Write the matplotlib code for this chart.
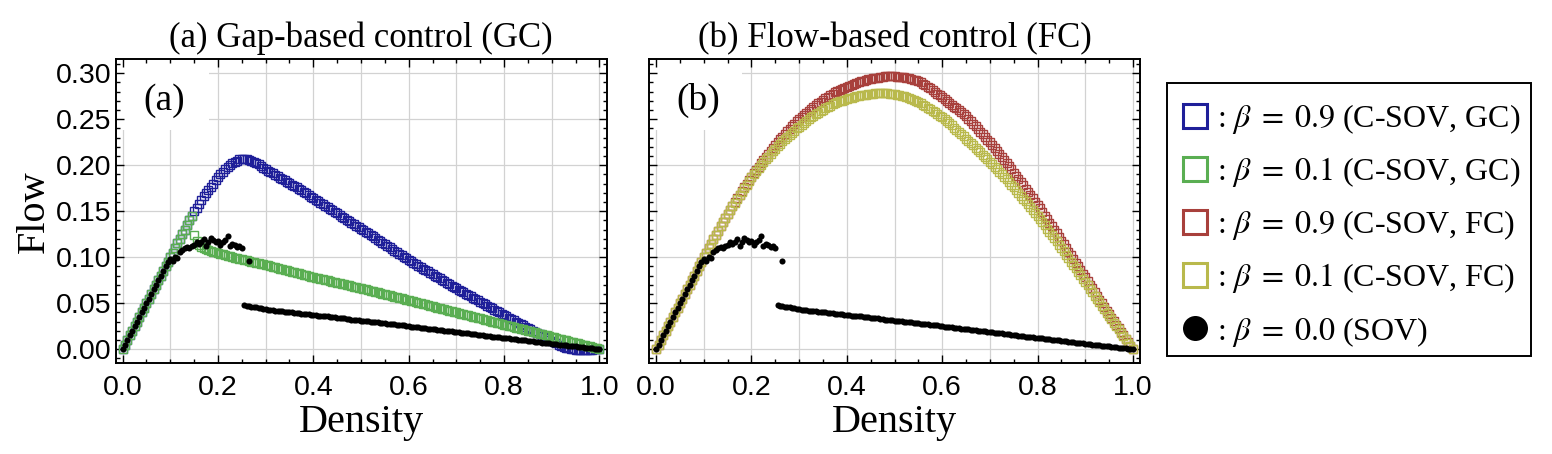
#%%
import numpy as np
import matplotlib
matplotlib.use("Agg")
import matplotlib.pyplot as plt
from matplotlib.lines import Line2D
from matplotlib.patches import Rectangle
from matplotlib.ticker import MultipleLocator, FormatStrFormatter

plt.rcParams['font.family'] = ['Liberation Serif', 'DejaVu Serif']
plt.rcParams['mathtext.fontset'] = 'stix'

#%% data (density step 0.005)
DENSITY = [
    0.000, 0.005, 0.010, 0.015, 0.020, 0.025, 0.030, 0.035, 0.040, 0.045, 0.050, 0.055, 0.060, 0.065, 0.070, 0.075, 0.080, 0.085, 0.090, 0.095,
    0.100, 0.105, 0.110, 0.115, 0.120, 0.125, 0.130, 0.135, 0.140, 0.145, 0.150, 0.155, 0.160, 0.165, 0.170, 0.175, 0.180, 0.185, 0.190, 0.195,
    0.200, 0.205, 0.210, 0.215, 0.220, 0.225, 0.230, 0.235, 0.240, 0.245, 0.250, 0.255, 0.260, 0.265, 0.270, 0.275, 0.280, 0.285, 0.290, 0.295,
    0.300, 0.305, 0.310, 0.315, 0.320, 0.325, 0.330, 0.335, 0.340, 0.345, 0.350, 0.355, 0.360, 0.365, 0.370, 0.375, 0.380, 0.385, 0.390, 0.395,
    0.400, 0.405, 0.410, 0.415, 0.420, 0.425, 0.430, 0.435, 0.440, 0.445, 0.450, 0.455, 0.460, 0.465, 0.470, 0.475, 0.480, 0.485, 0.490, 0.495,
    0.500, 0.505, 0.510, 0.515, 0.520, 0.525, 0.530, 0.535, 0.540, 0.545, 0.550, 0.555, 0.560, 0.565, 0.570, 0.575, 0.580, 0.585, 0.590, 0.595,
    0.600, 0.605, 0.610, 0.615, 0.620, 0.625, 0.630, 0.635, 0.640, 0.645, 0.650, 0.655, 0.660, 0.665, 0.670, 0.675, 0.680, 0.685, 0.690, 0.695,
    0.700, 0.705, 0.710, 0.715, 0.720, 0.725, 0.730, 0.735, 0.740, 0.745, 0.750, 0.755, 0.760, 0.765, 0.770, 0.775, 0.780, 0.785, 0.790, 0.795,
    0.800, 0.805, 0.810, 0.815, 0.820, 0.825, 0.830, 0.835, 0.840, 0.845, 0.850, 0.855, 0.860, 0.865, 0.870, 0.875, 0.880, 0.885, 0.890, 0.895,
    0.900, 0.905, 0.910, 0.915, 0.920, 0.925, 0.930, 0.935, 0.940, 0.945, 0.950, 0.955, 0.960, 0.965, 0.970, 0.975, 0.980, 0.985, 0.990, 0.995,
    1.000]

# C-SOV, gap-based control, beta = 0.9
FLOW_GC_09 = [
    0.000, 0.005, 0.010, 0.015, 0.020, 0.025, 0.030, 0.035, 0.040, 0.045, 0.050, 0.055, 0.060, 0.065, 0.070, 0.075, 0.080, 0.085, 0.090, 0.095,
    0.100, 0.105, 0.110, 0.115, 0.120, 0.125, 0.130, 0.135, 0.140, 0.145, 0.150, 0.154, 0.158, 0.162, 0.166, 0.1695, 0.173, 0.1765, 0.180, 0.1835,
    0.187, 0.190, 0.193, 0.1955, 0.198, 0.200, 0.202, 0.2037, 0.205, 0.2062, 0.207, 0.2069, 0.2065, 0.2058, 0.205, 0.2038, 0.2025, 0.2008, 0.199, 0.1972,
    0.1955, 0.194, 0.1925, 0.191, 0.1895, 0.188, 0.1865, 0.185, 0.1835, 0.182, 0.1805, 0.179, 0.1775, 0.176, 0.1745, 0.1728, 0.171, 0.1693, 0.1675, 0.1658,
    0.164, 0.1624, 0.1607, 0.1591, 0.1574, 0.1558, 0.1541, 0.1525, 0.1508, 0.1492, 0.1475, 0.1459, 0.1442, 0.1426, 0.1409, 0.1393, 0.1376, 0.136, 0.1343, 0.1327,
    0.131, 0.1293, 0.1276, 0.1259, 0.1242, 0.1225, 0.1208, 0.1191, 0.1174, 0.1157, 0.114, 0.1123, 0.1106, 0.1089, 0.1072, 0.1055, 0.1038, 0.1021, 0.1004, 0.0987,
    0.097, 0.0955, 0.0939, 0.0924, 0.0908, 0.0893, 0.0877, 0.0862, 0.0846, 0.0831, 0.0815, 0.080, 0.0784, 0.0769, 0.0753, 0.0738, 0.0722, 0.0707, 0.0691, 0.0676,
    0.066, 0.0646, 0.0631, 0.0617, 0.0602, 0.0588, 0.0573, 0.0559, 0.0544, 0.053, 0.0515, 0.0501, 0.0486, 0.0472, 0.0457, 0.0443, 0.0428, 0.0414, 0.0399, 0.0385,
    0.037, 0.0356, 0.0342, 0.0328, 0.0314, 0.030, 0.0286, 0.0272, 0.0258, 0.0244, 0.023, 0.0216, 0.0202, 0.0188, 0.0174, 0.016, 0.0146, 0.0132, 0.0118, 0.0104,
    0.009, 0.0076, 0.0062, 0.0049, 0.0036, 0.0025, 0.0015, 0.0008, 0.0003, -0.0001, -0.0005, -0.0007, -0.0008, -0.0008, -0.0008, -0.0007, -0.0006, -0.0005, -0.0003, -0.0002,
    0.000]

# C-SOV, gap-based control, beta = 0.1
FLOW_GC_01 = [
    0.000, 0.005, 0.010, 0.015, 0.020, 0.025, 0.030, 0.035, 0.040, 0.045, 0.050, 0.055, 0.060, 0.065, 0.070, 0.075, 0.080, 0.085, 0.090, 0.095,
    0.100, 0.105, 0.110, 0.115, 0.120, 0.125, 0.130, 0.135, 0.140, 0.145, 0.124, 0.118, 0.113, 0.1115, 0.110, 0.109, 0.108, 0.107, 0.106, 0.1055,
    0.105, 0.104, 0.103, 0.1022, 0.1015, 0.1008, 0.100, 0.0995, 0.099, 0.0985, 0.098, 0.0972, 0.0965, 0.0958, 0.095, 0.0945, 0.094, 0.0935, 0.093, 0.0924,
    0.0917, 0.091, 0.0903, 0.0897, 0.089, 0.0884, 0.0877, 0.087, 0.0863, 0.0857, 0.085, 0.0844, 0.0837, 0.083, 0.0823, 0.0817, 0.081, 0.0804, 0.0797, 0.079,
    0.0783, 0.0777, 0.0771, 0.0765, 0.0759, 0.0753, 0.0747, 0.0741, 0.0735, 0.0729, 0.0723, 0.0717, 0.0711, 0.0705, 0.0699, 0.0693, 0.0687, 0.0681, 0.0675, 0.067,
    0.0664, 0.0657, 0.0651, 0.0644, 0.0638, 0.0631, 0.0625, 0.0618, 0.0611, 0.0605, 0.0598, 0.0591, 0.0585, 0.0578, 0.0572, 0.0565, 0.0559, 0.0552, 0.0545, 0.0539,
    0.0532, 0.0525, 0.0519, 0.0512, 0.0506, 0.0499, 0.0493, 0.0486, 0.0479, 0.0473, 0.0466, 0.0459, 0.0453, 0.0446, 0.044, 0.0433, 0.0427, 0.042, 0.0413, 0.0407,
    0.040, 0.0393, 0.0387, 0.038, 0.0374, 0.0367, 0.0361, 0.0354, 0.0347, 0.0341, 0.0334, 0.0327, 0.0321, 0.0314, 0.0308, 0.0301, 0.0295, 0.0288, 0.0281, 0.0275,
    0.0268, 0.0261, 0.0255, 0.0248, 0.0242, 0.0235, 0.0229, 0.0222, 0.0215, 0.0209, 0.0202, 0.0195, 0.0189, 0.0182, 0.0176, 0.0169, 0.0163, 0.0156, 0.0149, 0.0143,
    0.0136, 0.0129, 0.0123, 0.0116, 0.011, 0.0103, 0.0097, 0.009, 0.0083, 0.0077, 0.007, 0.0063, 0.0057, 0.005, 0.0044, 0.0037, 0.003, 0.0023, 0.0016, 0.0008,
    0.000]

# C-SOV, flow-based control, beta = 0.9
FLOW_FC_09 = [
    0.000, 0.005, 0.010, 0.015, 0.020, 0.025, 0.030, 0.035, 0.040, 0.045, 0.050, 0.055, 0.060, 0.065, 0.070, 0.075, 0.080, 0.085, 0.090, 0.095,
    0.100, 0.105, 0.1099, 0.1147, 0.1195, 0.1242, 0.1289, 0.1335, 0.138, 0.1425, 0.1469, 0.1512, 0.1555, 0.1597, 0.1639, 0.168, 0.172, 0.176, 0.1799, 0.1837,
    0.1875, 0.1912, 0.1949, 0.1985, 0.202, 0.2055, 0.2089, 0.2122, 0.2155, 0.2187, 0.2219, 0.225, 0.228, 0.231, 0.2339, 0.2367, 0.2395, 0.2422, 0.2449, 0.2475,
    0.250, 0.2524, 0.2547, 0.257, 0.2592, 0.2613, 0.2634, 0.2654, 0.2673, 0.2692, 0.271, 0.2727, 0.2744, 0.276, 0.2776, 0.2791, 0.2805, 0.2818, 0.2831, 0.2843,
    0.2855, 0.2866, 0.2876, 0.2886, 0.2895, 0.2904, 0.2912, 0.2919, 0.2926, 0.2932, 0.2938, 0.2943, 0.2948, 0.2953, 0.2958, 0.2962, 0.2966, 0.2967, 0.2968, 0.2967,
    0.2965, 0.2963, 0.2961, 0.2958, 0.2954, 0.2949, 0.2944, 0.2937, 0.293, 0.2921, 0.2912, 0.2899, 0.2885, 0.2869, 0.2853, 0.2835, 0.2817, 0.2798, 0.2779, 0.276,
    0.274, 0.272, 0.270, 0.268, 0.2659, 0.2638, 0.2617, 0.2596, 0.2574, 0.2552, 0.253, 0.2503, 0.2476, 0.2449, 0.2421, 0.2393, 0.2365, 0.2337, 0.2308, 0.2279,
    0.225, 0.2218, 0.2186, 0.2154, 0.2121, 0.2088, 0.2055, 0.2022, 0.1988, 0.1954, 0.192, 0.1885, 0.185, 0.1815, 0.178, 0.1745, 0.171, 0.1675, 0.164, 0.1605,
    0.157, 0.1531, 0.1492, 0.1453, 0.1414, 0.1375, 0.1336, 0.1297, 0.1258, 0.1219, 0.118, 0.114, 0.110, 0.106, 0.102, 0.098, 0.094, 0.090, 0.086, 0.082,
    0.078, 0.074, 0.070, 0.066, 0.062, 0.058, 0.054, 0.050, 0.046, 0.042, 0.038, 0.0342, 0.0304, 0.0266, 0.0228, 0.019, 0.0152, 0.0114, 0.0076, 0.0038,
    0.000]

# C-SOV, flow-based control, beta = 0.1
FLOW_FC_01 = [
    0.000, 0.005, 0.010, 0.015, 0.020, 0.025, 0.030, 0.035, 0.040, 0.045, 0.050, 0.055, 0.060, 0.065, 0.070, 0.075, 0.080, 0.085, 0.090, 0.095,
    0.100, 0.105, 0.1099, 0.1147, 0.1195, 0.1242, 0.1289, 0.1334, 0.1379, 0.1423, 0.1467, 0.151, 0.1552, 0.1593, 0.1633, 0.1672, 0.1711, 0.1749, 0.1786, 0.1823,
    0.187, 0.1903, 0.1936, 0.1968, 0.200, 0.2031, 0.2062, 0.2092, 0.2122, 0.2151, 0.218, 0.2207, 0.2233, 0.2258, 0.2283, 0.2308, 0.2332, 0.2355, 0.2377, 0.2399,
    0.242, 0.2441, 0.2461, 0.2481, 0.250, 0.2519, 0.2537, 0.2555, 0.2572, 0.2589, 0.2605, 0.262, 0.2634, 0.2647, 0.266, 0.2672, 0.2683, 0.2693, 0.2703, 0.2712,
    0.272, 0.2728, 0.2735, 0.2742, 0.2748, 0.2754, 0.2759, 0.2764, 0.2768, 0.2772, 0.2775, 0.2778, 0.278, 0.2782, 0.2783, 0.2783, 0.2782, 0.2781, 0.2778, 0.2774,
    0.277, 0.2765, 0.276, 0.2754, 0.2747, 0.2739, 0.273, 0.272, 0.2709, 0.2697, 0.2685, 0.2671, 0.2657, 0.2641, 0.2625, 0.2608, 0.2591, 0.2574, 0.2556, 0.2538,
    0.252, 0.2499, 0.2477, 0.2455, 0.2432, 0.2409, 0.2385, 0.2362, 0.2338, 0.2314, 0.229, 0.2266, 0.2241, 0.2216, 0.2191, 0.2166, 0.2141, 0.2116, 0.2091, 0.2066,
    0.204, 0.2013, 0.1985, 0.1958, 0.193, 0.1902, 0.1874, 0.1846, 0.1817, 0.1789, 0.176, 0.173, 0.1699, 0.1668, 0.1637, 0.1606, 0.1575, 0.1544, 0.1512, 0.1481,
    0.145, 0.1416, 0.1381, 0.1346, 0.1311, 0.1276, 0.1241, 0.1206, 0.1171, 0.1136, 0.110, 0.1063, 0.1026, 0.0989, 0.0952, 0.0915, 0.0878, 0.0841, 0.0804, 0.0767,
    0.073, 0.0693, 0.0656, 0.0619, 0.0582, 0.0545, 0.0508, 0.0471, 0.0434, 0.0397, 0.036, 0.0324, 0.0288, 0.0252, 0.0216, 0.018, 0.0144, 0.0108, 0.0072, 0.0036,
    0.000]

# SOV, beta = 0.0 (same data in both panels)
FLOW_SOV = [
    0.000, 0.005, 0.010, 0.015, 0.020, 0.025, 0.030, 0.035, 0.040, 0.045, 0.050, 0.055, 0.060, 0.065, 0.070, 0.075, 0.080, 0.085, 0.090, 0.095,
    0.098, 0.096, 0.100, 0.099, 0.106, 0.108, 0.110, 0.111, 0.110, 0.112, 0.113, 0.116, 0.114, 0.117, 0.120, 0.112, 0.117, 0.121, 0.119, 0.116,
    0.118, 0.113, 0.116, 0.119, 0.123, 0.112, 0.114, 0.113, 0.111, 0.112, 0.110, 0.0482, 0.0475, 0.0466, 0.0462, 0.0458, 0.0455, 0.0451, 0.0448, 0.044,
    0.0432, 0.043, 0.0428, 0.0424, 0.042, 0.0418, 0.0416, 0.0412, 0.0409, 0.0407, 0.0405, 0.040, 0.0396, 0.0393, 0.039, 0.0388, 0.0386, 0.0382, 0.0378, 0.0373,
    0.0368, 0.0367, 0.0366, 0.0362, 0.0359, 0.0358, 0.0356, 0.0352, 0.0348, 0.0345, 0.0342, 0.034, 0.0338, 0.0336, 0.0333, 0.0327, 0.0322, 0.032, 0.0318, 0.0314,
    0.0311, 0.0309, 0.0306, 0.0302, 0.0298, 0.0297, 0.0296, 0.0291, 0.0287, 0.0285, 0.0283, 0.0279, 0.0276, 0.0274, 0.0271, 0.0266, 0.0262, 0.026, 0.0258, 0.0253,
    0.0248, 0.0246, 0.0243, 0.0239, 0.0236, 0.0234, 0.0232, 0.0228, 0.0225, 0.0222, 0.0219, 0.0215, 0.0212, 0.021, 0.0207, 0.0202, 0.0198, 0.0196, 0.0193, 0.0188,
    0.0184, 0.0182, 0.018, 0.0176, 0.0173, 0.0171, 0.0168, 0.0164, 0.016, 0.0158, 0.0155, 0.0151, 0.0148, 0.0145, 0.0142, 0.0138, 0.0135, 0.0132, 0.0129, 0.0125,
    0.0122, 0.012, 0.0117, 0.0113, 0.011, 0.0107, 0.0104, 0.010, 0.0097, 0.0095, 0.0092, 0.0088, 0.0085, 0.0082, 0.0079, 0.0075, 0.0072, 0.0069, 0.0066, 0.0063,
    0.006, 0.0057, 0.0054, 0.0051, 0.0048, 0.0045, 0.0042, 0.0039, 0.0036, 0.0033, 0.003, 0.0027, 0.0024, 0.0021, 0.0018, 0.0015, 0.0012, 0.0009, 0.0006, 0.0003,
    0.000]
SOV_EXTRA_DENSITY = [0.265]
SOV_EXTRA_FLOW = [0.096]

TITLES = ["(a) Gap-based control (GC)", "(b) Flow-based control (FC)"]
PANEL_TAGS = ["(a)", "(b)"]
LABELS = [r": $\beta\;=\;0.9$ (C-SOV, GC)", r": $\beta\;=\;0.1$ (C-SOV, GC)",
          r": $\beta\;=\;0.9$ (C-SOV, FC)", r": $\beta\;=\;0.1$ (C-SOV, FC)",
          r": $\beta\;=\;0.0$ (SOV)"]

BLUE = "#1f1f99"
GREEN = "#5aae52"
RED = "#a8403c"
YELLOW = "#b9b94c"

#%%
W, H = 1552, 454
fig = plt.figure(figsize=(W / 100, H / 100), dpi=100)
ax_a = fig.add_axes([115.5 / W, 91 / H, 491 / W, 303.6 / H])
ax_b = fig.add_axes([649 / W, 91 / H, 491 / W, 303.6 / H])

sq = dict(ls="none", marker="s", mfc="none", ms=5.2, mew=1.0)
dot = dict(ls="none", marker="o", color="black", ms=4.4, mew=0)

ax_a.plot(DENSITY, FLOW_GC_09, mec=BLUE, zorder=2, **sq)
ax_a.plot(DENSITY, FLOW_GC_01, mec=GREEN, zorder=3, **sq)
ax_b.plot(DENSITY, FLOW_FC_09, mec=RED, zorder=2, **sq)
ax_b.plot(DENSITY, FLOW_FC_01, mec=YELLOW, zorder=3, **sq)

for i, ax in enumerate([ax_a, ax_b]):
    ax.plot(DENSITY, FLOW_SOV, zorder=4, **dot)
    ax.plot(SOV_EXTRA_DENSITY, SOV_EXTRA_FLOW, zorder=4, **dot)

    ax.set_xlim(-0.015, 1.015)
    ax.set_ylim(-0.015, 0.315)

    # grid lines like the Mathematica frame
    for gx in np.arange(0, 1.01, 0.1):
        ax.axvline(gx, color="#d2d2d2", lw=0.9, zorder=0.8)
    gstep = 0.05 if i == 0 else 0.1
    for gy in np.arange(0, 0.301, gstep):
        ax.axhline(gy, color="#d2d2d2", lw=0.9, zorder=0.8)

    # white box behind the panel tag
    ax.add_patch(Rectangle((0, 0.767), 0.19, 0.233, transform=ax.transAxes,
                           facecolor="white", edgecolor="none", zorder=1))
    ax.text(0.10, 0.865, PANEL_TAGS[i], transform=ax.transAxes, fontsize=27,
            ha="center", va="center", zorder=5)

    ax.set_title(TITLES[i], fontsize=25, pad=8.6)
    ax.set_xlabel("Density", fontsize=29, labelpad=2)

    ax.xaxis.set_major_locator(MultipleLocator(0.2))
    ax.xaxis.set_minor_locator(MultipleLocator(0.05))
    ax.yaxis.set_major_locator(MultipleLocator(0.05))
    ax.yaxis.set_minor_locator(MultipleLocator(0.01))
    ax.xaxis.set_major_formatter(FormatStrFormatter("%.1f"))
    ax.yaxis.set_major_formatter(FormatStrFormatter("%.2f"))
    ax.tick_params(which="both", direction="in", top=True, right=True, width=1)
    ax.tick_params(which="major", length=5.5)
    ax.tick_params(which="minor", length=2.8)
    ax.tick_params(labelfontfamily="Liberation Sans", labelsize=20.5)
    ax.tick_params(axis="x", pad=8.5)
    ax.tick_params(axis="y", pad=3)
    for s in ax.spines.values():
        s.set_linewidth(1.4)

ax_a.set_ylabel("Flow", fontsize=29, labelpad=2)
ax_b.tick_params(labelleft=False)

#%% legend (frame drawn separately so its box matches)
handles = [
    Line2D([], [], ls="none", marker="s", mfc="none", mec=BLUE, ms=17, mew=2.2),
    Line2D([], [], ls="none", marker="s", mfc="none", mec=GREEN, ms=17, mew=2.2),
    Line2D([], [], ls="none", marker="s", mfc="none", mec=RED, ms=17, mew=2.2),
    Line2D([], [], ls="none", marker="s", mfc="none", mec=YELLOW, ms=17, mew=2.2),
    Line2D([], [], ls="none", marker="o", color="black", ms=18, mew=0),
]
leg = fig.legend(handles, LABELS, loc="upper left",
                 bbox_to_anchor=(1167 / W, (H - 83) / H), borderaxespad=0,
                 fontsize=23, borderpad=0.59, handlelength=0.55, handletextpad=0.42,
                 labelspacing=0.6, frameon=False)
fig.patches.append(Rectangle((1167 / W, (H - 356) / H), (1531 - 1167) / W, (356 - 83) / H,
                             transform=fig.transFigure, fill=False,
                             edgecolor="black", linewidth=1.4))

fig.savefig("out.png", dpi=100)
